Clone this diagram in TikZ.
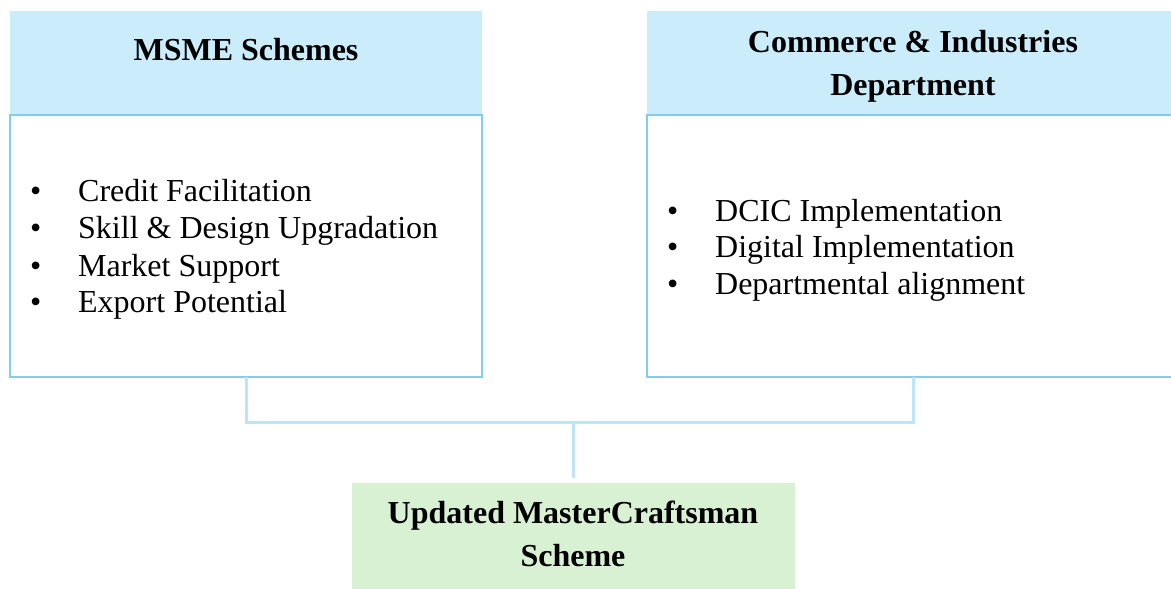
\documentclass[tikz,border=0pt]{standalone}
\usepackage{fontspec}
\setmainfont{Liberation Serif}
\definecolor{hdr}{HTML}{CBEDFB}
\definecolor{bord}{HTML}{82CDEC}
\definecolor{conn}{HTML}{BEE4F5}
\definecolor{grn}{HTML}{D9F1D3}
\newcommand{\blt}{\makebox[48pt][l]{•}}
\tikzset{
  hdrbox/.style={fill=hdr, draw=none, inner sep=0pt, align=center, font=\fontsize{32}{43}\selectfont\bfseries},
  bodybox/.style={draw=bord, line width=2pt, fill=white},
  item/.style={anchor=base west, inner sep=0pt, font=\fontsize{32}{37}\selectfont},
  conline/.style={draw=conn, line width=3pt},
  resbox/.style={fill=grn, draw=none, inner sep=0pt, align=center, font=\fontsize{32}{43}\selectfont\bfseries}
}
\begin{document}
\begin{tikzpicture}[x=1pt,y=-1pt]
\useasboundingbox (0,0) rectangle (1171,589);
\begin{scope}
\clip (0,0) rectangle (1171,589);
% left
\fill[hdr] (10,11) rectangle (482,114);
\node[hdrbox] (lh) at (246,50) {MSME Schemes};
\draw[bodybox] (10,115) rectangle (482,377);
\coordinate (lb) at (246,377);
\node[item] (l1) at (30,201.5) {\blt Credit Facilitation};
\node[item] (l2) at (30,238.5) {\blt Skill \& Design Upgradation};
\node[item] (l3) at (30,276.5) {\blt Market Support};
\node[item] (l4) at (30,312.5) {\blt Export Potential};
% right
\fill[hdr] (647,11) rectangle (1180,114);
\node[hdrbox] (rh) at (913,66) {Commerce \& Industries\\Department};
\draw[bodybox] (647,115) rectangle (1180,377);
\coordinate (rb) at (913,377);
\node[item] (r1) at (667,221.5) {\blt DCIC Implementation};
\node[item] (r2) at (667,257.5) {\blt Digital Implementation};
\node[item] (r3) at (667,294.5) {\blt Departmental alignment};
% result
\fill[grn] (352,483) rectangle (795,589);
\node[resbox] (res) at (573,534) {Updated MasterCraftsman\\Scheme};
\coordinate (rt) at (573,478);
\coordinate (mid) at (573,422);
% connectors
\draw[conline] (lb) -- (lb |- mid) -- (rb |- mid) -- (rb);
\draw[conline] (mid) -- (rt);
\end{scope}
\end{tikzpicture}
\end{document}
